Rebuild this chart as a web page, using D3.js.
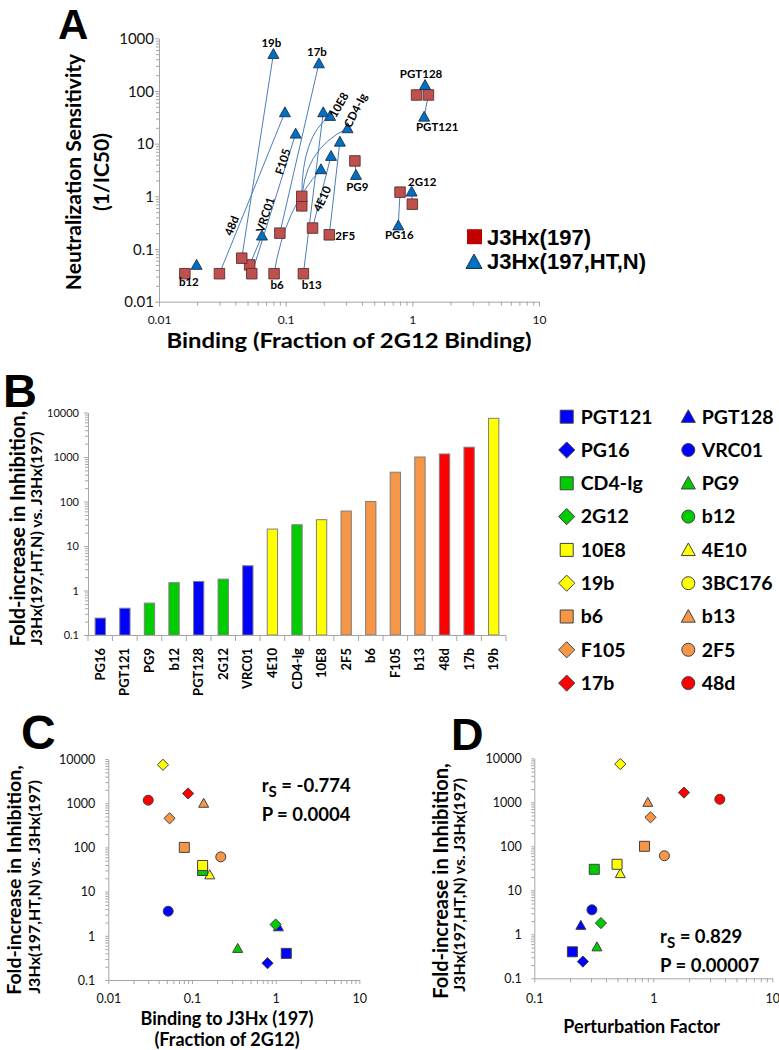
<!DOCTYPE html>
<html><head><meta charset="utf-8">
<script src="https://cdn.jsdelivr.net/npm/d3@7"></script>
<style>
body{margin:0;background:#fff;}
svg{display:block;}
</style></head><body>
<svg id="chart" width="779" height="1050"></svg>
<script>
// ================= DATA =================
const antibodies = ["PG16","PGT121","PG9","b12","PGT128","2G12","VRC01","4E10","CD4-Ig","10E8","2F5","b6","F105","b13","48d","17b","19b"];
const foldIncrease = [0.24,0.40,0.52,1.5,1.6,1.8,3.6,24,30,39,61,100,455,1000,1170,1660,7400];
// Panel A: J3Hx(197) (squares) and J3Hx(197,HT,N) (triangles)
const bindingJ3Hx197 = [0.80,1.34,0.352,0.016,1.08,1.0,0.052,0.163,0.134,0.134,0.221,0.081,0.054,0.138,0.030,0.090,0.045];
const neutJ3Hx197    = [1.2,84,4.7,0.034,84,0.71,0.050,0.25,0.66,1.0,0.186,0.034,0.034,0.034,0.034,0.20,0.067];
const bindingJ3HxHTN = [0.775,1.24,0.359,0.0198,1.26,0.987,0.065,0.228,0.308,0.224,0.268,0.19,0.12,0.198,0.0987,0.183,0.080];
const neutJ3HxHTN    = [0.28,32.5,2.55,0.05,130,1.23,0.18,5.85,19.6,33.6,10.9,3.27,15.5,39.4,39.4,335,504];
// Panel D (b12 not in the correlation panels)
const perturbationFactor = [0.256,0.209,0.336,null,0.246,0.363,0.305,0.528,0.319,0.496,1.24,0.843,0.947,0.899,3.62,1.81,0.528];
const epitopeGroup = ["blue","blue","green","green","blue","green","blue","yellow","green","yellow","orange","orange","orange","orange","red","red","yellow"];
const markerShape  = ["diamond","square","triangle","circle","triangle","diamond","circle","triangle","square","square","circle","square","diamond","triangle","circle","diamond","diamond"];

const seriesNames = ["J3Hx(197)","J3Hx(197,HT,N)"];

const legendNames = ["PGT121","PGT128","PG16","VRC01","CD4-Ig","PG9","2G12","b12","10E8","4E10","19b","3BC176","b6","b13","F105","2F5","17b","48d"];
const legendGroup = ["blue","blue","blue","blue","green","green","green","green","yellow","yellow","yellow","yellow","orange","orange","orange","orange","red","red"];
const legendShape = ["square","triangle","diamond","circle","square","triangle","diamond","circle","square","triangle","diamond","circle","square","triangle","diamond","circle","diamond","circle"];

const statsC = {rs:"-0.774", p:"0.0004"};
const statsD = {rs:"0.829", p:"0.00007"};

const ticksA_y = [0.01,0.1,1,10,100,1000];
const ticksA_x = [0.01,0.1,1,10];
const ticksB_y = [0.1,1,10,100,1000,10000];
const ticksC_x = [0.01,0.1,1,10];
const ticksCD_y = [0.1,1,10,100,1000,10000];
const ticksD_x = [0.1,1,10];

// ================= STYLE =================
const groupColor = {blue:"#0000FF", green:"#00CC00", yellow:"#FFFF00", orange:"#F79646", red:"#FF0000"};
const AXIS = "#a6a6a6";
const FONT = "Lato, 'Open Sans', sans-serif";
const ARIAL = "'Liberation Sans', Arial, sans-serif";
const MSTROKE = "#404040";

const svg = d3.select("#chart");

function shapePath(shape, s){
  const h = s/2;
  if(shape==="square") return `M${-h},${-h}H${h}V${h}H${-h}Z`;
  if(shape==="diamond"){ const d=s*0.62; return `M0,${-d}L${d},0L0,${d}L${-d},0Z`; }
  if(shape==="triangle"){ const th=s*0.9; return `M0,${-th*0.55}L${h},${th*0.45}L${-h},${th*0.45}Z`; }
  return d3.arc()({innerRadius:0,outerRadius:h,startAngle:0,endAngle:2*Math.PI});
}

function isDecade(v){ const l=Math.log10(v); return Math.abs(l-Math.round(l))<1e-6; }
function logTickValues(domain){
  const out=[]; const e0=Math.round(Math.log10(domain[0])), e1=Math.round(Math.log10(domain[1]));
  for(let e=e0;e<=e1;e++){ for(let k=1;k<=9;k++){ out.push(+(k*Math.pow(10,e)).toPrecision(6)); if(e===e1) break; } }
  return out;
}
function drawLogAxis(scale, orient, labels, o){
  const left = orient==="left";
  const g = svg.append("g").attr("transform", left?`translate(${o.at},0)`:`translate(0,${o.at})`);
  const ax = (left?d3.axisLeft(scale):d3.axisBottom(scale))
    .tickValues(logTickValues(scale.domain()))
    .tickFormat(v => labels.some(l=>Math.abs(l-v)/l<1e-6) ? String(v) : "")
    .tickSizeOuter(0).tickSizeInner(o.major);
  g.call(ax);
  g.select(".domain").attr("stroke", AXIS);
  g.selectAll(".tick line").attr("stroke", AXIS).each(function(v){
    if(!isDecade(v)) d3.select(this).attr(left?"x2":"y2", left?-o.minor:o.minor);
  });
  const t = g.selectAll(".tick text").attr("font-family", FONT).attr("font-size", o.fs).attr("fill","#111");
  if(left) t.attr("x", -o.off).attr("dy","0.35em");
  else t.attr("y", o.off).attr("dy", 0);
  return g;
}
function rotText(x, y, str, fs, weight, family){
  return svg.append("text").attr("transform",`translate(${x},${y}) rotate(-90)`)
    .attr("text-anchor","middle").attr("font-family",family||FONT).attr("font-weight",weight||"bold")
    .attr("font-size",fs).attr("fill","#000").text(str);
}
function plainText(x,y,str,fs,anchor,family,weight){
  return svg.append("text").attr("x",x).attr("y",y).attr("text-anchor",anchor||"start")
    .attr("font-family",family||FONT).attr("font-weight",weight||"bold").attr("font-size",fs).attr("fill","#000").text(str);
}

// ================= PANEL A =================
const xA = d3.scaleLog().domain([0.01,10]).range([159,539]);
const yA = d3.scaleLog().domain([0.01,1000]).range([301.7,38.3]);
drawLogAxis(yA,"left",ticksA_y,{at:159,major:4,minor:3,fs:15,off:5});
drawLogAxis(xA,"bottom",ticksA_x,{at:301.7,major:5,minor:4,fs:12,off:22.5});

const curvedLinks = {"10E8":[0,0.75],"CD4-Ig":[0,0.72],"b6":[0.22,0.62]};
const gLinks = svg.append("g");
antibodies.forEach((ab,i)=>{
  const sx=xA(bindingJ3Hx197[i]), sy=yA(neutJ3Hx197[i]);
  const tx=xA(bindingJ3HxHTN[i]), ty=yA(neutJ3HxHTN[i]);
  let d;
  if(curvedLinks[ab]){ const [a,b]=curvedLinks[ab]; d=`M${sx},${sy}Q${sx+a*(tx-sx)},${sy+b*(ty-sy)} ${tx},${ty}`; }
  else d=`M${sx},${sy}L${tx},${ty}`;
  gLinks.append("path").attr("d",d).attr("fill","none").attr("stroke","#4a7ebb").attr("stroke-width",1);
});
svg.append("g").selectAll("path").data(antibodies).join("path")
  .attr("d",shapePath("square",10.5)).attr("transform",(d,i)=>`translate(${xA(bindingJ3Hx197[i])},${yA(neutJ3Hx197[i])})`)
  .attr("fill","#C0504D").attr("stroke","#5a3030").attr("stroke-width",0.9);
svg.append("g").selectAll("path").data(antibodies).join("path")
  .attr("d",shapePath("triangle",11)).attr("transform",(d,i)=>`translate(${xA(bindingJ3HxHTN[i])},${yA(neutJ3HxHTN[i])})`)
  .attr("fill","#0070C0").attr("stroke","#1f2f4f").attr("stroke-width",0.9);

const aLabelStyle = {
 "19b":{on:"tri",dx:-2,dy:-11.3},"17b":{on:"tri",dx:-2,dy:-11.6},
 "PGT128":{on:"tri",dx:-4,dy:-11},"PGT121":{on:"tri",dx:13,dy:10},
 "2G12":{on:"tri",dx:10.6,dy:-10},"PG16":{on:"tri",dx:1,dy:9.3},
 "PG9":{on:"tri",dx:1.3,dy:11.7},"2F5":{on:"sq",dx:6,dy:0.7,anchor:"start"},
 "b12":{on:"sq",dx:4,dy:8.5},"b6":{on:"sq",dx:3,dy:11},"b13":{on:"sq",dx:8.4,dy:11},
 "48d":{on:"sq",dx:12.3,dy:-48,rot:-68},"VRC01":{on:"tri",dx:3.4,dy:-20.7,rot:-72},
 "F105":{on:"tri",dx:-12.7,dy:28,rot:-72},"4E10":{on:"sq",dx:9.8,dy:-29.3,rot:-65},
 "10E8":{on:"tri",dx:9,dy:-11,rot:-60},"CD4-Ig":{on:"tri",dx:8,dy:-18,rot:-63}
};
antibodies.forEach((ab,i)=>{
  const s=aLabelStyle[ab]; if(!s) return;
  const px = s.on==="tri"?xA(bindingJ3HxHTN[i]):xA(bindingJ3Hx197[i]);
  const py = s.on==="tri"?yA(neutJ3HxHTN[i]):yA(neutJ3Hx197[i]);
  svg.append("text").attr("transform",`translate(${px+s.dx},${py+s.dy}) rotate(${s.rot||0})`)
    .attr("text-anchor",s.anchor||"middle").attr("dy","0.35em").attr("font-family",FONT)
    .attr("font-weight","bold").attr("font-size",11.5).attr("fill","#000").text(ab);
});
// legend A
svg.append("path").attr("d",shapePath("square",15)).attr("transform","translate(474.5,236.7)").attr("fill","#C00000");
svg.append("path").attr("d",shapePath("triangle",16)).attr("transform","translate(474,262)").attr("fill","#0070C0").attr("stroke","#1f2f4f").attr("stroke-width",1);
plainText(487,244.5,seriesNames[0],22,"start",ARIAL);
plainText(487,269,seriesNames[1],22,"start",ARIAL);
// titles A
plainText(58,39,"A",42,"start",ARIAL);
rotText(81,172,"Neutralization Sensitivity",21);
rotText(108.5,172,"(1/IC50)",21);
plainText(349,348,"Binding (Fraction of 2G12 Binding)",21,"middle").attr("textLength",365).attr("lengthAdjust","spacingAndGlyphs");

// ================= PANEL B =================
const xB = d3.scaleBand().domain(antibodies).range([88,506]).paddingInner(0.58).paddingOuter(0.29);
const yB = d3.scaleLog().domain([0.1,10000]).range([635,412.5]);
svg.append("g").selectAll("rect").data(antibodies).join("rect")
  .attr("x",d=>xB(d)).attr("width",xB.bandwidth())
  .attr("y",(d,i)=>yB(foldIncrease[i])).attr("height",(d,i)=>yB(0.1)-yB(foldIncrease[i]))
  .attr("fill",(d,i)=>groupColor[epitopeGroup[i]]).attr("stroke","#7f7f7f").attr("stroke-width",1);
drawLogAxis(yB,"left",ticksB_y,{at:88,major:4,minor:3,fs:11,off:9});
const gxB = svg.append("g");
gxB.append("line").attr("x1",88).attr("x2",506).attr("y1",635.5).attr("y2",635.5).attr("stroke",AXIS);
d3.range(antibodies.length+1).forEach(k=>{
  const x = 88 + k*xB.step();
  gxB.append("line").attr("x1",x).attr("x2",x).attr("y1",635.5).attr("y2",641).attr("stroke",AXIS);
});
svg.append("g").selectAll("text").data(antibodies).join("text")
  .attr("transform",d=>`translate(${xB(d)+xB.bandwidth()/2+4.5},648) rotate(-90)`)
  .attr("text-anchor","end").attr("font-family",FONT).attr("font-weight","bold").attr("font-size",13).attr("fill","#000").text(d=>d);
plainText(3,407,"B",47,"start",ARIAL);
rotText(25,528.5,"Fold-increase in Inhibition,",20);
rotText(41.5,538.5,"J3Hx(197,HT,N) vs. J3Hx(197)",16);

// legend B
const gLeg = svg.append("g");
legendNames.forEach((n,i)=>{
  const col=i%2, row=Math.floor(i/2);
  const mx = col===0?566.7:688.3, tx = col===0?580.7:701.7, cy = 416.7 + row*33.3;
  const size = legendShape[i]==="triangle"?14:13;
  gLeg.append("path").attr("d",shapePath(legendShape[i],size)).attr("transform",`translate(${mx},${cy})`)
    .attr("fill",groupColor[legendGroup[i]]).attr("stroke",MSTROKE).attr("stroke-width",1);
  gLeg.append("text").attr("x",tx).attr("y",cy+6.8).attr("font-family",FONT).attr("font-weight","bold")
    .attr("font-size",19.5).attr("fill","#000").text(n);
});

// ================= PANEL C & D =================
const corrIdx = antibodies.map((d,i)=>i).filter(i=>perturbationFactor[i]!==null);
function scatter(xs, ys, xVals){
  svg.append("g").selectAll("path").data(corrIdx).join("path")
    .attr("d",i=>shapePath(markerShape[i], markerShape[i]==="diamond"?9:10))
    .attr("transform",i=>`translate(${xs(xVals[i])},${ys(foldIncrease[i])})`)
    .attr("fill",i=>groupColor[epitopeGroup[i]]).attr("stroke",MSTROKE).attr("stroke-width",1);
}
function stats(x,y1,y2,st){
  const t = svg.append("text").attr("x",x).attr("y",y1).attr("font-family",FONT).attr("font-weight","bold").attr("font-size",18.5).attr("fill","#000");
  t.append("tspan").text("r");
  t.append("tspan").attr("font-size",15).attr("dy",5).text("S");
  t.append("tspan").attr("dy",-5).text(" = "+st.rs);
  plainText(x,y2,"P = "+st.p,18.5);
}
const xC = d3.scaleLog().domain([0.01,10]).range([108.3,359.3]);
const yC = d3.scaleLog().domain([0.1,10000]).range([980,759]);
drawLogAxis(yC,"left",ticksCD_y,{at:108.3,major:3,minor:3,fs:12.5,off:13});
drawLogAxis(xC,"bottom",ticksC_x,{at:980,major:4,minor:4,fs:12.5,off:23});
scatter(xC,yC,bindingJ3Hx197);
stats(261.7,791.7,820.7,statsC);
plainText(21,749,"C",48,"start",ARIAL);
rotText(20.5,880,"Fold-increase in Inhibition,",19.5);
rotText(40,887,"J3Hx(197,HT,N) vs. J3Hx(197)",16);
plainText(227,1024.5,"Binding to J3Hx (197)",18,"middle");
plainText(227,1045.5,"(Fraction of 2G12)",18,"middle");

const xD = d3.scaleLog().domain([0.1,10]).range([534.3,772.3]);
const yD = d3.scaleLog().domain([0.1,10000]).range([978.3,758.3]);
drawLogAxis(yD,"left",ticksCD_y,{at:534.3,major:3,minor:3,fs:12.5,off:12.6});
drawLogAxis(xD,"bottom",ticksD_x,{at:978.3,major:4,minor:4,fs:12.5,off:24.7});
scatter(xD,yD,perturbationFactor);
stats(660,943.3,971.7,statsD);
plainText(451,750,"D",45,"start",ARIAL);
rotText(448,881,"Fold-increase in Inhibition,",20);
rotText(465,885,"J3Hx(197,HT,N) vs. J3Hx(197)",16);
plainText(641.7,1033,"Perturbation Factor",18,"middle");
</script>
</body></html>
